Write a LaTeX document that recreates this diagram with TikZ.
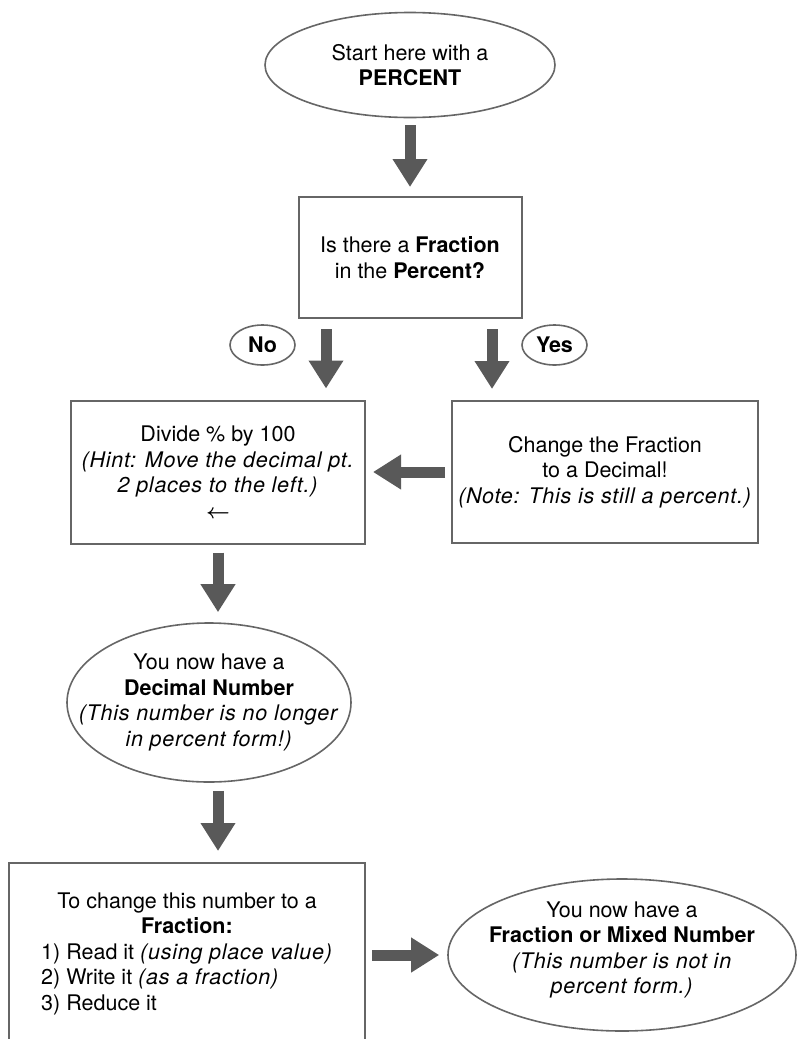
\documentclass[tikz,border=0pt]{standalone}
\usepackage{fontspec}
\setmainfont{TeX Gyre Heros}[ItalicFeatures={LetterSpace=3.5}]
\usetikzlibrary{arrows.meta,shapes.geometric}
\definecolor{linegray}{HTML}{666666}
\definecolor{arrowgray}{HTML}{595959}
\tikzstyle{box} = [rectangle, draw=linegray, line width=2pt, inner sep=0pt, align=center]
\tikzstyle{oval} = [ellipse, draw=linegray, line width=1.6pt, inner sep=0pt, align=center]
\tikzstyle{ovaltext} = [inner sep=0pt, align=center]
\tikzstyle{bigarrow} = [->, draw=arrowgray, line width=11pt]

\begin{document}
\begin{tikzpicture}[x=1pt, y=-1pt, >={Triangle[width=33pt,length=28pt]},
                    font=\fontsize{21.5}{25.5}\selectfont]
  \path[use as bounding box, fill=white] (0,0) rectangle (797,1039);

  \node[oval, minimum width=290pt, minimum height=105pt] (start) at (410,65) {Start here with a\\\textbf{PERCENT}};
  \node[box, minimum width=223pt, minimum height=121pt] (question) at (410,257.5) {Is there a \textbf{Fraction}\\in the \textbf{Percent?}};
  \node[oval, minimum width=65pt, minimum height=40pt] (no) at (262.5,345) {\textbf{No}};
  \node[oval, minimum width=65pt, minimum height=40pt] (yes) at (554.5,345) {\textbf{Yes}};
  \node[box, minimum width=294pt, minimum height=143pt] (divide) at (218,472)
    {Divide \% by 100\\\textit{(Hint: Move the decimal pt.}\\\textit{2 places to the left.)}\\{\boldmath$\leftarrow$}};
  \node[box, minimum width=306pt, minimum height=142pt] (change) at (605,472)
    {Change the Fraction\\to a Decimal!\\\textit{(Note: This is still a percent.)}};
  \node[oval, minimum width=284pt, minimum height=159pt] (decimal) at (209,702.5) {};
  \node[ovaltext] (decimaltxt) at (decimal)
    {You now have a\\\textbf{Decimal Number}\\\textit{(This number is no longer}\\\textit{in percent form!)}};
  \node[box, minimum width=356pt, minimum height=184pt] (tofrac) at (187,955)
    {To change this number to a\\\textbf{Fraction:}\\
     \begin{tabular}[t]{@{}l@{}}1) Read it \textit{(using place value)}\\2) Write it \textit{(as a fraction)}\\3) Reduce it\end{tabular}};
  \node[oval, minimum width=348pt, minimum height=152pt] (result) at (622,955) {};
  \node[ovaltext] (resulttxt) at ([yshift=5pt]result.center)
    {You now have a\\\textbf{Fraction or Mixed Number}\\\textit{(This number is not in}\\\textit{percent form.)}};

  \draw[bigarrow, shorten <=7pt, shorten >=9pt] (start) -- (question);
  \draw[bigarrow, shorten <=10pt, shorten >=11pt] ([xshift=-84pt]question.south) -- ([xshift=-84pt]question.south |- divide.north);
  \draw[bigarrow, shorten <=10pt, shorten >=11pt] ([xshift=82pt]question.south) -- ([xshift=82pt]question.south |- change.north);
  \draw[bigarrow, shorten <=6pt, shorten >=7pt] (change) -- (divide);
  \draw[bigarrow, shorten <=8pt, shorten >=10pt] (divide.south) -- (divide.south |- decimal.north);
  \draw[bigarrow, shorten <=8pt, shorten >=11pt] ([xshift=9pt]decimal.south) -- ([xshift=9pt]decimal.south |- tofrac.north);
  \draw[bigarrow, shorten <=6pt, shorten >=8pt] (tofrac) -- (result);
\end{tikzpicture}
\end{document}
